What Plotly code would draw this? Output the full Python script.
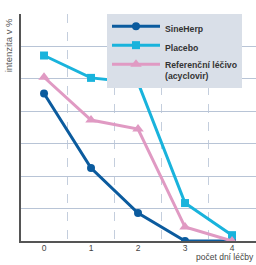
import plotly.graph_objects as go

days = [0, 1, 2, 3, 4]
day_labels = ["0", "1", "2", "3", "4"]
sineherp = [4.55, 2.25, 0.86, 0.0, 0.0]
placebo = [5.72, 5.03, 4.88, 1.17, 0.18]
reference = [5.05, 3.73, 3.45, 0.43, 0.0]

names = ["SineHerp", "Placebo", "Referenční léčivo<br>(acyclovir)"]
colors = ["#0b5b9e", "#19b3dc", "#e09ac3"]
symbols = ["circle", "square", "triangle-up"]
sizes = [8, 8, 10]

fig = go.Figure()
for vals, name, col, sym, sz in zip([sineherp, placebo, reference], names, colors, symbols, sizes):
    fig.add_trace(go.Scatter(
        x=days, y=vals, name=name, mode="lines+markers",
        line=dict(color=col, width=3),
        marker=dict(color=col, symbol=sym, size=sz),
    ))

fig.update_layout(
    width=256, height=265,
    margin=dict(l=21, r=0, t=14, b=24),
    paper_bgcolor="white", plot_bgcolor="white",
    font=dict(family="Liberation Sans, Arial", color="#444"),
    showlegend=True,
    legend=dict(
        x=(107 - 21) / 235, y=1.0, xanchor="left", yanchor="top",
        bgcolor="#d9dfe8", borderwidth=0,
        font=dict(size=8.7, color="#333", family="Liberation Sans, Arial", weight="bold"),
        itemwidth=48, valign="top", traceorder="normal",
        tracegroupgap=0,
    ),
    xaxis=dict(
        range=[-0.49, 4.51],
        tickvals=days, ticktext=day_labels,
        showgrid=False, zeroline=False,
        showline=True, linecolor="#555", linewidth=1.5,
        ticks="", tickfont=dict(size=8.5, color="#444"),
        ticklabelstandoff=-2,
        minor=dict(tickvals=[0.5, 1.5, 2.5, 3.5], showgrid=True,
                   gridcolor="#c4cedd", griddash="dash", gridwidth=1),
    ),
    yaxis=dict(
        range=[0, 7], dtick=1, showticklabels=False,
        showgrid=True, gridcolor="#b8c4d6", gridwidth=1,
        zeroline=False, showline=True, linecolor="#555", linewidth=1.5,
        ticks="",
    ),
    annotations=[
        dict(text="intenzita v %", xref="paper", yref="paper",
             x=-0.055, y=0.99, xanchor="center", yanchor="top",
             textangle=-90, showarrow=False,
             font=dict(size=9.5, color="#555")),
        dict(text="počet dní léčby", xref="paper", yref="paper",
             x=1.0, y=-0.1, xanchor="right", yanchor="bottom",
             showarrow=False, font=dict(size=8.5, color="#444")),
    ],
)

fig.write_html("out.html",
               config={"displayModeBar": False},
               post_script="document.body.style.margin='0';document.body.style.overflow='hidden';")
